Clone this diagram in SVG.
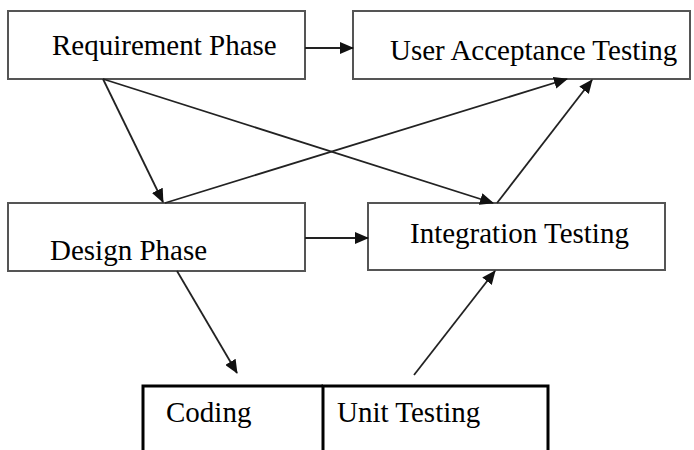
<svg xmlns="http://www.w3.org/2000/svg" width="694" height="450" viewBox="0 0 694 450">
<style>
.box{fill:#fff;stroke:#555;stroke-width:2}
.tbl{fill:none;stroke:#000;stroke-width:3}
.lbl{font-size:29px;fill:#000}
.con{stroke:#222;stroke-width:1.8;fill:none;marker-end:url(#ah)}
</style>
<defs>
<marker id="ah" markerUnits="userSpaceOnUse" markerWidth="14" markerHeight="12" refX="13" refY="6" orient="auto">
<path d="M0,0 L14,6 L0,12 Z" fill="#111"/>
</marker>
</defs>
<rect width="694" height="450" fill="#fff"/>
<g font-family="Liberation Serif, Times New Roman, DejaVu Serif, serif">
<g id="req"><rect class="box" x="8" y="11" width="297" height="68"/><text class="lbl" x="52" y="55">Requirement Phase</text></g>
<g id="uat"><rect class="box" x="353" y="11" width="337" height="68"/><text class="lbl" x="390" y="60">User Acceptance Testing</text></g>
<g id="design"><rect class="box" x="8" y="203" width="297" height="68"/><text class="lbl" x="50" y="260">Design Phase</text></g>
<g id="integ"><rect class="box" x="368" y="203" width="297" height="67"/><text class="lbl" x="410" y="243">Integration Testing</text></g>
<g id="coding"><path class="tbl" d="M143,450 V386 H323"/><text class="lbl" x="166" y="422">Coding</text></g>
<g id="unit"><path class="tbl" d="M323,450 V386 H548 V450"/><text class="lbl" x="337" y="422">Unit Testing</text></g>
</g>
<g id="connectors">
<line class="con" x1="305" y1="48" x2="353" y2="48"/>
<line class="con" x1="103" y1="79" x2="163" y2="202"/>
<line class="con" x1="103" y1="79" x2="493" y2="203"/>
<line class="con" x1="165" y1="203" x2="567" y2="79"/>
<line class="con" x1="497" y1="203" x2="592" y2="80"/>
<line class="con" x1="305" y1="238" x2="368" y2="238"/>
<line class="con" x1="177" y1="271" x2="237" y2="373"/>
<line class="con" x1="414" y1="375" x2="495" y2="271"/>
</g>
</svg>
